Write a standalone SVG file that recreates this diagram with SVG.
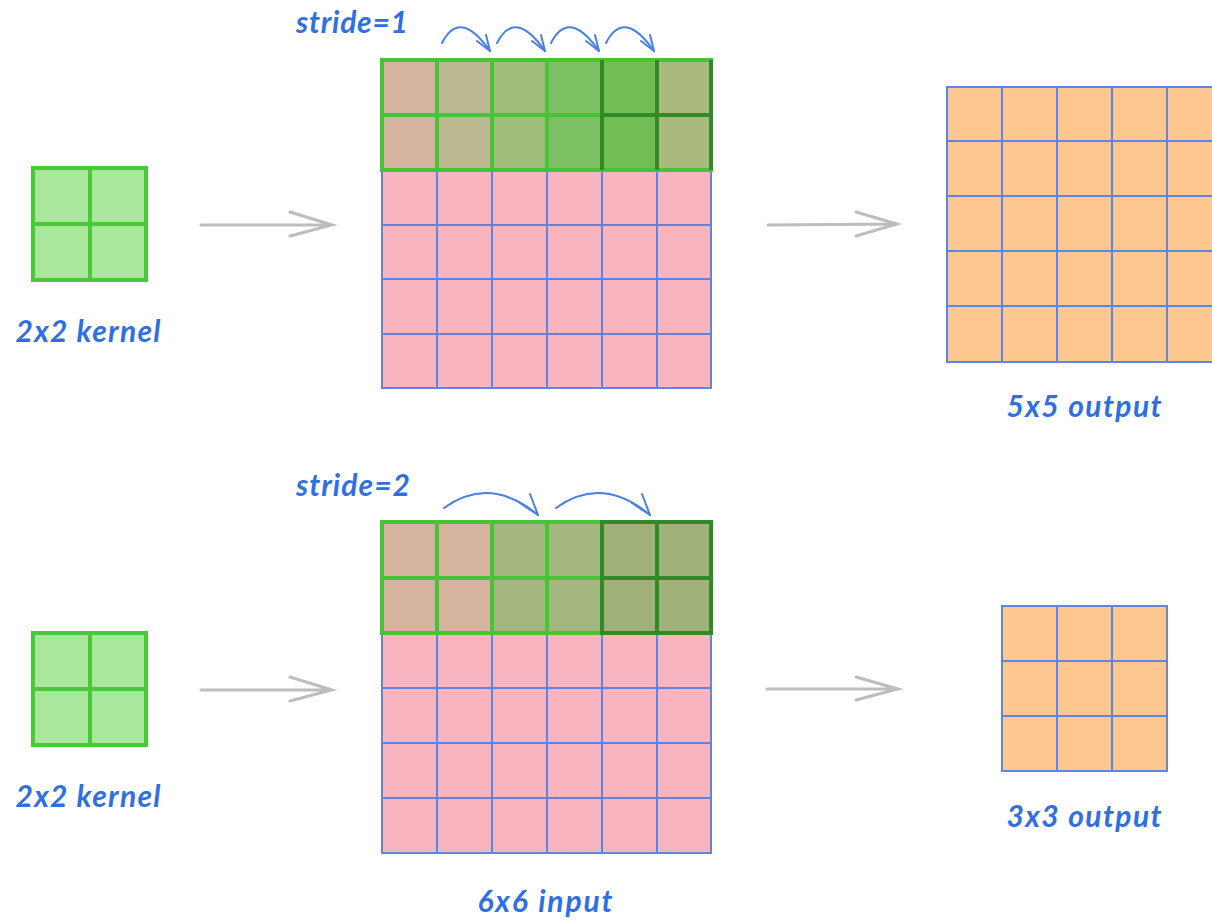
<svg xmlns="http://www.w3.org/2000/svg" width="1212" height="923" viewBox="0 0 1212 923">
<defs>
<style>
.lbl{font-family:"Lato","Noto Sans",sans-serif;font-size:30px;font-weight:700;fill:#2f6fe3;font-style:italic}
.pink{fill:#f8b4bf;stroke:#5d85e6;stroke-width:2}
.org{fill:#fdc890;stroke:#5d85e6;stroke-width:2}
.kern{fill:#a9e79d;stroke:#49c93a;stroke-width:4}
.g{stroke:#45c436;stroke-width:4}
.gd{stroke:#2f8a27;stroke-width:4}
.conn{fill:none;stroke:#bdbdbd;stroke-width:3;stroke-linecap:round}
.arc{fill:none;stroke:#4a7fe6;stroke-width:2;stroke-linecap:round}
</style>
</defs>
<rect width="1212" height="923" fill="#ffffff"/>

<!-- kernels -->
<g id="kernel1">
<rect x="33" y="168" width="113" height="112" class="kern"/>
<line x1="90" y1="168" x2="90" y2="280" class="kern"/>
<line x1="33" y1="224" x2="146" y2="224" class="kern"/>
<text x="88" y="342" class="lbl" text-anchor="middle" textLength="145" lengthAdjust="spacing">2x2 kernel</text>
</g>
<g id="kernel2">
<rect x="33" y="633" width="113" height="112" class="kern"/>
<line x1="90" y1="633" x2="90" y2="745" class="kern"/>
<line x1="33" y1="689" x2="146" y2="689" class="kern"/>
<text x="88" y="807" class="lbl" text-anchor="middle" textLength="145" lengthAdjust="spacing">2x2 kernel</text>
</g>

<!-- input 1 -->
<g id="input1">
<g class="pink">
<rect x="382" y="170" width="329" height="218"/>
<line x1="437" y1="170" x2="437" y2="388"/><line x1="492" y1="170" x2="492" y2="388"/><line x1="547" y1="170" x2="547" y2="388"/><line x1="602" y1="170" x2="602" y2="388"/><line x1="657" y1="170" x2="657" y2="388"/>
<line x1="382" y1="225" x2="711" y2="225"/><line x1="382" y1="279" x2="711" y2="279"/><line x1="382" y1="334" x2="711" y2="334"/>
</g>
<rect x="382" y="60" width="55" height="110" fill="#d5b3a0"/>
<rect x="437" y="60" width="55" height="110" fill="#bcb88f"/>
<rect x="492" y="60" width="55" height="110" fill="#9dbd78"/>
<rect x="547" y="60" width="55" height="110" fill="#7cc063"/>
<rect x="602" y="60" width="55" height="110" fill="#73bd55"/>
<rect x="657" y="60" width="54" height="110" fill="#a9b97d"/>
<g class="g" fill="none">
<rect x="382" y="60" width="329" height="110"/>
<line x1="382" y1="115" x2="711" y2="115"/>
<line x1="437" y1="60" x2="437" y2="170"/><line x1="492" y1="60" x2="492" y2="170"/><line x1="547" y1="60" x2="547" y2="170"/>
</g>
<g class="gd" fill="none">
<line x1="602" y1="60" x2="602" y2="170"/><line x1="657" y1="60" x2="657" y2="170"/><line x1="711" y1="60" x2="711" y2="170"/>
<line x1="602" y1="115" x2="711" y2="115"/>
</g>
<text x="296" y="33" class="lbl" textLength="112" lengthAdjust="spacing">stride=1</text>
<g class="arc">
<path d="M442,43 Q460,8 490,51"/><path d="M490,51 L486,35 M490,51 L477,41"/>
<path d="M497,43 Q515,8 545,51"/><path d="M545,51 L541,35 M545,51 L532,41"/>
<path d="M551,43 Q569,8 599,51"/><path d="M599,51 L595,35 M599,51 L586,41"/>
<path d="M606,43 Q624,8 654,51"/><path d="M654,51 L650,35 M654,51 L641,41"/>
</g>
</g>

<!-- input 2 -->
<g id="input2">
<g class="pink">
<rect x="382" y="633" width="329" height="220"/>
<line x1="437" y1="633" x2="437" y2="853"/><line x1="492" y1="633" x2="492" y2="853"/><line x1="547" y1="633" x2="547" y2="853"/><line x1="602" y1="633" x2="602" y2="853"/><line x1="657" y1="633" x2="657" y2="853"/>
<line x1="382" y1="688" x2="711" y2="688"/><line x1="382" y1="743" x2="711" y2="743"/><line x1="382" y1="798" x2="711" y2="798"/>
</g>
<rect x="382" y="522" width="110" height="111" fill="#d6b4a0"/>
<rect x="492" y="522" width="110" height="111" fill="#a5b781"/>
<rect x="602" y="522" width="109" height="111" fill="#a0b279"/>
<g class="g" fill="none">
<rect x="382" y="522" width="329" height="111"/>
<line x1="382" y1="578" x2="602" y2="578"/>
<line x1="437" y1="522" x2="437" y2="633"/><line x1="492" y1="522" x2="492" y2="633"/><line x1="547" y1="522" x2="547" y2="633"/>
</g>
<g class="gd" fill="none">
<rect x="602" y="522" width="109" height="111"/>
<line x1="657" y1="522" x2="657" y2="633"/>
<line x1="602" y1="578" x2="711" y2="578"/>
</g>
<text x="296" y="496" class="lbl" textLength="114" lengthAdjust="spacing">stride=2</text>
<g class="arc">
<path d="M444,508 Q490,475 538,515"/><path d="M538,515 L530,494 M538,515 L520,503"/>
<path d="M556,508 Q602,475 650,515"/><path d="M650,515 L642,494 M650,515 L632,503"/>
</g>
<text x="545" y="912" class="lbl" text-anchor="middle" textLength="135" lengthAdjust="spacing">6x6 input</text>
</g>

<!-- outputs -->
<g id="output1">
<g class="org">
<rect x="947" y="87" width="280" height="275"/>
<line x1="1002" y1="87" x2="1002" y2="362"/><line x1="1057" y1="87" x2="1057" y2="362"/><line x1="1112" y1="87" x2="1112" y2="362"/><line x1="1167" y1="87" x2="1167" y2="362"/>
<line x1="947" y1="141" x2="1212" y2="141"/><line x1="947" y1="196" x2="1212" y2="196"/><line x1="947" y1="251" x2="1212" y2="251"/><line x1="947" y1="306" x2="1212" y2="306"/>
</g>
<text x="1084" y="417" class="lbl" text-anchor="middle" textLength="155" lengthAdjust="spacing">5x5 output</text>
</g>
<g id="output2">
<g class="org">
<rect x="1002" y="606" width="165" height="165"/>
<line x1="1057" y1="606" x2="1057" y2="771"/><line x1="1112" y1="606" x2="1112" y2="771"/>
<line x1="1002" y1="661" x2="1167" y2="661"/><line x1="1002" y1="716" x2="1167" y2="716"/>
</g>
<text x="1084" y="827" class="lbl" text-anchor="middle" textLength="155" lengthAdjust="spacing">3x3 output</text>
</g>

<!-- connectors -->
<g id="connectors" class="conn">
<path d="M201,225 L332,225 M290,212 L332,225 L290,236"/>
<path d="M768,225 L897,224 M856,212 L897,224 L856,236"/>
<path d="M201,690 L332,690 M290,677 L332,690 L290,701"/>
<path d="M767,689 L898,689 M856,677 L898,689 L856,700"/>
</g>
</svg>
